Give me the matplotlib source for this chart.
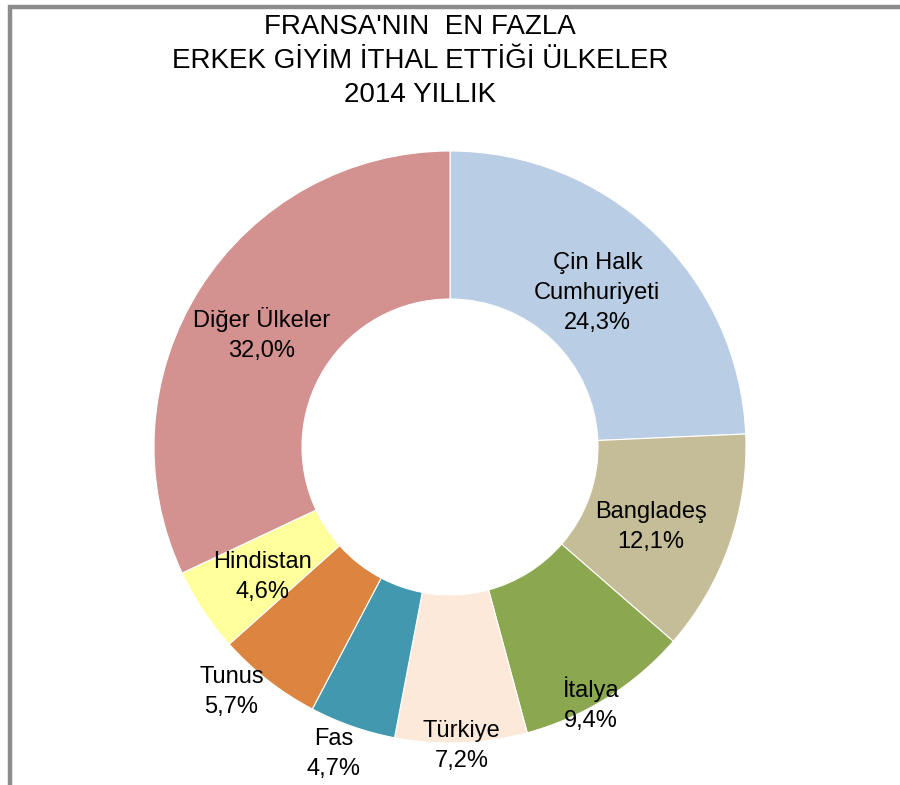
import matplotlib.pyplot as plt
from matplotlib.patches import Rectangle
import numpy as np

plt.rcParams['font.family'] = ['Liberation Sans', 'DejaVu Sans']

# data
countries = ['Çin Halk\nCumhuriyeti', 'Bangladeş', 'İtalya', 'Türkiye',
             'Fas', 'Tunus', 'Hindistan', 'Diğer Ülkeler']
shares = [24.3, 12.1, 9.4, 7.2, 4.7, 5.7, 4.6, 32.0]
colors = ['#B9CDE5', '#C4BD97', '#8BA74F', '#FDE9D9',
          '#4198AF', '#DB8541', '#FFFF9B', '#D3918F']

# label placement: fraction of outer radius, and nudge from mid-angle (deg)
label_r = [0.72, 0.73, 0.99, 1.01, 1.11, 1.11, 0.77, 0.74]
label_da = [0, -2.5, -3.3, 0, -1.5, -3.7, 1.2, 1.5]

W, H = 900, 785
cx, cy, R = 450, 447, 296

fig = plt.figure(figsize=(W / 100, H / 100), dpi=100)
ax = fig.add_axes([0, 0, 1, 1])

wedges, _ = ax.pie(shares, colors=colors, startangle=90, counterclock=False,
                   radius=1.0,
                   wedgeprops=dict(width=0.5, edgecolor='white', linewidth=0.8))

# pie() sets its own limits, so put ours after it
ax.set_xlim(-cx / R, (W - cx) / R)
ax.set_ylim(-(H - cy) / R, cy / R)
ax.set_aspect('equal')
ax.axis('off')

for w, name, val, r, da in zip(wedges, countries, shares, label_r, label_da):
    ang = np.deg2rad((w.theta1 + w.theta2) / 2 + da)
    x, y = r * np.cos(ang), r * np.sin(ang)
    txt = f'{name}\n{val:.1f}%'.replace('.', ',')
    ax.text(x, y, txt, ha='center', va='center', fontsize=17,
            linespacing=1.46)

fig.text(420 / W, 1 - 61 / H,
         "FRANSA'NIN  EN FAZLA\nERKEK GİYİM İTHAL ETTİĞİ ÜLKELER\n2014 YILLIK",
         ha='center', va='center', fontsize=20, linespacing=1.42)

# chart frame (only the top and left edges are visible)
fig.add_artist(Rectangle((10 / W, -1), 5, 1 + (H - 6.5) / H,
                         transform=fig.transFigure, fill=False,
                         edgecolor='#8C8C8C', linewidth=3.2))

fig.savefig('out.png', dpi=100)
